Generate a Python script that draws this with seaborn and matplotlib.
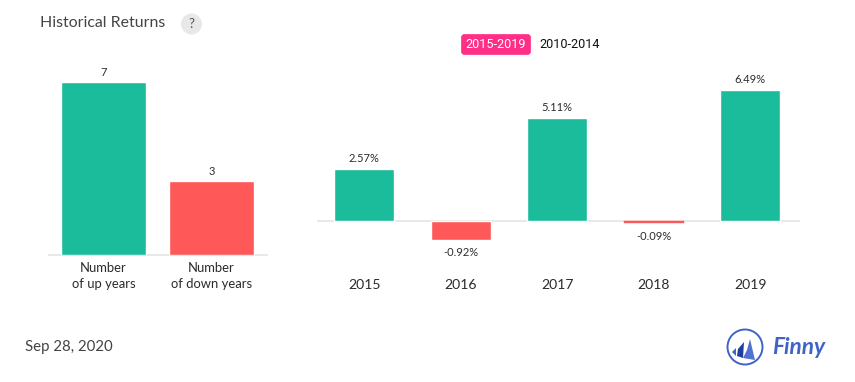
import matplotlib
matplotlib.use("Agg")
import matplotlib.pyplot as plt
from matplotlib.patches import Circle, Polygon, FancyBboxPatch
import seaborn as sns
import pandas as pd

sns.set_style("white")
plt.rcParams['font.family'] = ['Lato', 'DejaVu Sans']

W, H = 855, 382
GREEN = "#1abc9c"
RED = "#ff5858"
LINE = "#e9e9e9"

count_labels = ["Number\nof up years", "Number\nof down years"]
count_values = [7, 3]
years = ["2015", "2016", "2017", "2018", "2019"]
returns = [2.57, -0.92, 5.11, -0.09, 6.49]
return_labels = ["2.57%", "-0.92%", "5.11%", "-0.09%", "6.49%"]

fig = plt.figure(figsize=(W / 100, H / 100), dpi=100, facecolor="white")


def px_axes(x0, y0, x1, y1):
    return fig.add_axes([x0 / W, 1 - y1 / H, (x1 - x0) / W, (y1 - y0) / H])


# left panel
ax1 = px_axes(49, 60, 267, 255)
df1 = pd.DataFrame({"k": count_labels, "v": count_values})
sns.barplot(data=df1, x="k", y="v", ax=ax1, width=0.787, palette=[GREEN, RED],
            hue="k", legend=False, saturation=1, edgecolor="white", linewidth=1, zorder=3)
ax1.set_xlim(-0.505, 1.513)
ax1.set_ylim(0, 195 / (173.5 / 7))
ax1.set_yticks([])
ax1.set_xlabel("")
ax1.set_ylabel("")
ax1.tick_params(axis="x", length=0, pad=5, labelsize=9.4, labelcolor="#2b2b2b")
for lab in ax1.get_xticklabels():
    lab.set_linespacing(1.38)
for s in ["top", "left", "right"]:
    ax1.spines[s].set_visible(False)
ax1.spines["bottom"].set_color(LINE)
ax1.spines["bottom"].set_linewidth(1.5)
for i, v in enumerate(count_values):
    ax1.annotate(str(v), (i, v), xytext=(0, 2.6), textcoords="offset points",
                 ha="center", va="bottom", fontsize=8, color="#2b2b2b")

# right panel
ppu = 20.2
ax2 = px_axes(317, 60, 800, 300)
df2 = pd.DataFrame({"year": years, "ret": returns})
sns.barplot(data=df2, x="year", y="ret", ax=ax2, width=0.622,
            palette=[GREEN if r >= 0 else RED for r in returns], hue="year",
            legend=False, saturation=1, edgecolor="white", linewidth=1, zorder=3)
ax2.set_xlim(-0.49, 4.515)
ax2.set_ylim(-(300 - 221.2) / ppu, (221.2 - 60) / ppu)
ax2.axhline(0, color=LINE, lw=1.5, zorder=1)
# the thinnest bar would vanish under a white outline
for patch in ax2.patches:
    if abs(patch.get_height()) < 0.2:
        patch.set_edgecolor(RED)
        patch.set_linewidth(0.3)
ax2.set_yticks([])
ax2.set_xlabel("")
ax2.set_ylabel("")
ax2.xaxis.tick_bottom()
ax2.tick_params(axis="x", length=0, pad=-15, labelsize=10.1, labelcolor="#2b2b2b")
sns.despine(ax=ax2, left=True, bottom=True)
for i, (v, t) in enumerate(zip(returns, return_labels)):
    off = 3.6 if v >= 0 else -5.4
    ax2.annotate(t, (i, v), xytext=(0, off), textcoords="offset points", ha="center",
                 va="bottom" if v >= 0 else "top", fontsize=8, color="#2b2b2b")

# overlay for page furniture, in pixel coordinates
ov = fig.add_axes([0, 0, 1, 1], facecolor="none", zorder=10)
ov.set_xlim(0, W)
ov.set_ylim(H, 0)
ov.set_axis_off()

ov.text(40, 23, "Historical Returns", fontsize=11.4, color="#444444", va="center", ha="left")
ov.add_patch(Circle((191.5, 24), 10.5, fc="#e8e8e8", ec="none"))
ov.text(191.5, 24, "?", fontsize=9.5, color="#555555", ha="center", va="center")

ov.add_patch(FancyBboxPatch((461.5, 34.5), 69, 20, boxstyle="round,pad=0,rounding_size=3",
                            fc="#ff2f85", ec="#ff2f85", lw=0.5))
ov.text(496, 44.5, "2015-2019", fontsize=9.1, color="white", ha="center", va="center",
        family=["Roboto", "DejaVu Sans"])
ov.text(570, 44.5, "2010-2014", fontsize=9.1, color="#111111", ha="center", va="center",
        family=["Roboto", "DejaVu Sans"])

ov.text(25, 347.5, "Sep 28, 2020", fontsize=10.8, color="#444444", ha="left", va="center")

# logo
BLUE = "#3f63c8"
ov.add_patch(Circle((745, 347), 17.5, fc="white", ec=BLUE, lw=1.4))
ov.add_patch(Polygon([(750, 339), (755, 360), (743, 358), (747, 350)], fc=BLUE, ec="none", alpha=0.9))
ov.add_patch(Polygon([(744, 342), (743, 358), (737, 356), (738, 349)], fc="#1f3f9f", ec="none"))
ov.add_patch(Polygon([(736, 348), (736, 356), (732, 352)], fc=BLUE, ec="none"))
ov.text(772, 348, "Finny", fontsize=16.3, color=BLUE, style="italic", weight="bold",
        ha="left", va="center")

fig.savefig("out.png", dpi=100, facecolor="white")
